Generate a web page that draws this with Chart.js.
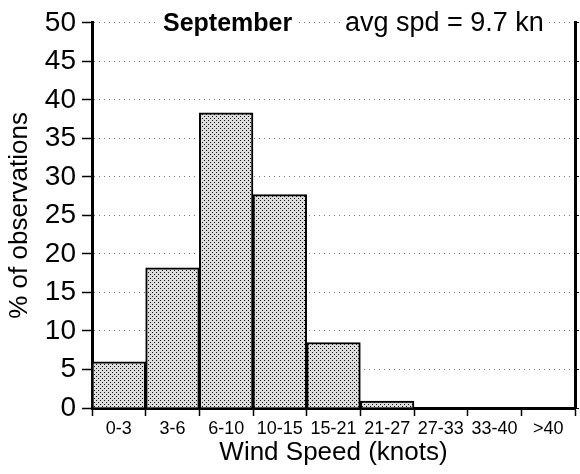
<!DOCTYPE html>
<html>
<head>
<meta charset="utf-8">
<script src="https://cdn.jsdelivr.net/npm/chart.js@4"></script>
<style>
  body { margin: 0; background: #fff; }
  #wrap { width: 580px; height: 474px; }
</style>
</head>
<body>
<div id="wrap"><canvas id="wind"></canvas></div>
<script>
// wind speed classes (knots) and % of observations, September
let speedClasses = ['0-3', '3-6', '6-10', '10-15', '15-21', '21-27', '27-33', '33-40', '>40'];
let pctObs = [6.0, 18.2, 38.3, 27.7, 8.5, 0.9, 0, 0, 0];
let yTicks = [0, 5, 10, 15, 20, 25, 30, 35, 40, 45, 50];
let monthName = 'September';
let avgText = 'avg spd = 9.7 kn';

// stipple fill like the scanned figure
function makeStipple() {
  let c = document.createElement('canvas');
  c.width = 4; c.height = 4;
  let g = c.getContext('2d');
  g.fillStyle = '#dcdcdc';
  g.fillRect(0, 0, 4, 4);
  g.fillStyle = '#111';
  g.fillRect(0, 0, 1, 1);
  g.fillRect(2, 2, 1, 1);
  return g.createPattern(c, 'repeat');
}

// texts sitting on the 50 line
const headerText = {
  id: 'headerText',
  afterDraw(chart) {
    let ctx = chart.ctx;
    let y = chart.scales.y.getPixelForValue(50);
    ctx.save();
    ctx.textBaseline = 'middle';
    ctx.font = 'bold 25px "Liberation Sans", Arial, sans-serif';
    let w1 = ctx.measureText(monthName).width;
    ctx.fillStyle = '#fff';
    ctx.fillRect(158, y - 14, w1 + 10, 28);
    ctx.fillStyle = '#000';
    ctx.fillText(monthName, 163, y + 1);
    ctx.font = '27px "Liberation Sans", Arial, sans-serif';
    let w2 = ctx.measureText(avgText).width;
    ctx.fillStyle = '#fff';
    ctx.fillRect(340, y - 14, w2 + 10, 28);
    ctx.fillStyle = '#000';
    ctx.fillText(avgText, 345, y + 1);
    ctx.restore();
  }
};

let windChart = new Chart(document.getElementById('wind').getContext('2d'), {
  type: 'bar',
  data: {
    labels: speedClasses,
    datasets: [{
      label: '% of observations',
      data: pctObs,
      backgroundColor: makeStipple(),
      borderColor: '#000',
      borderWidth: 2,
      categoryPercentage: 1.0,
      barPercentage: 1.0
    }]
  },
  options: {
    responsive: true,
    maintainAspectRatio: false,
    animation: false,
    layout: { padding: { top: 22, right: 0, bottom: 0, left: 0 } },
    plugins: {
      legend: { display: false },
      tooltip: { enabled: false }
    },
    scales: {
      x: {
        grid: {
          display: true,
          offset: true,
          drawOnChartArea: false,
          drawTicks: true,
          tickLength: 8,
          tickColor: '#000',
          tickWidth: 1.5
        },
        border: { display: true, color: '#000', width: 3 },
        ticks: {
          color: '#000',
          padding: 2,
          maxRotation: 0,
          autoSkip: false,
          font: { family: '"Liberation Sans", Arial, sans-serif', size: 18 }
        },
        title: {
          display: true,
          text: 'Wind Speed (knots)',
          color: '#000',
          padding: { top: 0, bottom: 6 },
          font: { family: '"Liberation Sans", Arial, sans-serif', size: 26 }
        },
        afterFit: function(scale) { scale.height = 66; }
      },
      y: {
        min: 0,
        max: 50,
        afterBuildTicks: function(scale) { scale.ticks = yTicks.map(v => ({ value: v })); },
        grid: {
          color: '#777',
          lineWidth: 1,
          tickColor: '#000',
          tickWidth: 1.5,
          tickLength: 10
        },
        border: { display: true, color: '#000', width: 3, dash: [1, 4] },
        ticks: {
          color: '#000',
          padding: 6,
          font: { family: '"Liberation Sans", Arial, sans-serif', size: 28 }
        },
        title: {
          display: true,
          text: '% of observations',
          color: '#000',
          padding: { top: 4, bottom: 0 },
          font: { family: '"Liberation Sans", Arial, sans-serif', size: 26 }
        },
        afterFit: function(scale) { scale.width = 92; }
      },
      y2: {
        position: 'right',
        min: 0,
        max: 50,
        afterBuildTicks: function(scale) { scale.ticks = yTicks.map(v => ({ value: v })); },
        grid: {
          drawOnChartArea: false,
          tickColor: '#000',
          tickWidth: 1,
          tickLength: 4
        },
        border: { display: true, color: '#000', width: 3 },
        ticks: { display: false },
        afterFit: function(scale) { scale.width = 5; }
      }
    }
  },
  plugins: [headerText]
});
</script>
</body>
</html>
